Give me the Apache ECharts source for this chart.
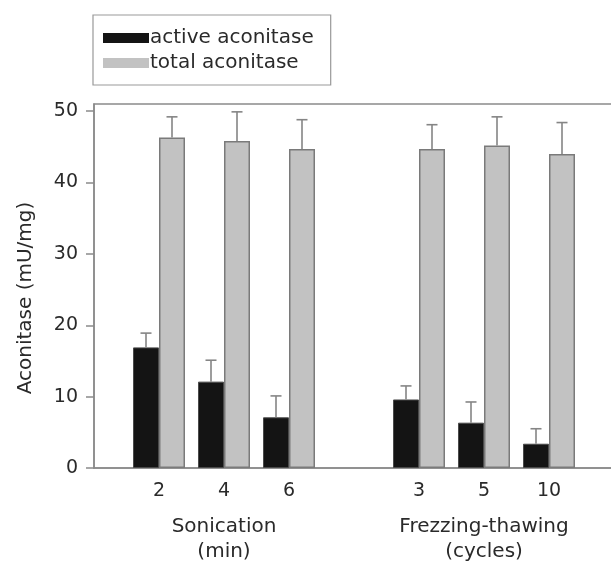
<!DOCTYPE html>
<html>
<head>
<meta charset="utf-8">
<script src="https://cdn.jsdelivr.net/npm/echarts@6/dist/echarts.min.js"></script>
<style>
  html, body { margin: 0; padding: 0; background: #fff; }
  #chart { width: 611px; height: 562px; }
</style>
</head>
<body>
<div id="chart"></div>
<script>
// x slots: empty slot at each end and one between the two groups
const categories = ['', '2', '4', '6', '', '3', '5', '10', ''];
const groupLabels = ['', '', 'Sonication\n(min)', '', '', '', 'Frezzing-thawing\n(cycles)', '', ''];
const barSlots = [1, 2, 3, 5, 6, 7];

const activeMean = [16.9, 12.1, 7.1, 9.6, 6.35, 3.4];
const activeErr = [2.0, 3.0, 3.0, 1.9, 2.9, 2.1];
const totalMean = [46.3, 45.8, 44.7, 44.7, 45.2, 44.0];
const totalErr = [2.9, 4.1, 4.1, 3.4, 4.0, 4.4];
const yTicks = [0, 10, 20, 30, 40, 50];

const FONT = 'DejaVu Sans';
const TXT = '#2a2a2a';
const BAR_W = 26;

// put the 6 values into the 9 slots
function toSlots(values) {
  const out = categories.map(() => '-');
  barSlots.forEach((s, i) => { out[s] = values[i]; });
  return out;
}
function errData(means, errs) {
  return barSlots.map((s, i) => [s, means[i], errs[i]]);
}
function errorBar(shift) {
  return function (params, api) {
    const base = api.coord([api.value(0), api.value(1)]);
    const top = api.coord([api.value(0), api.value(1) + api.value(2)]);
    const x = base[0] + shift;
    const st = { stroke: '#858585', lineWidth: 1.6 };
    return {
      type: 'group',
      children: [
        { type: 'line', shape: { x1: x, y1: base[1], x2: x, y2: top[1] }, style: st },
        { type: 'line', shape: { x1: x - 5.5, y1: top[1], x2: x + 5.5, y2: top[1] }, style: st }
      ]
    };
  };
}

const chart = echarts.init(document.getElementById('chart'));
chart.setOption({
  animation: false,
  textStyle: { fontFamily: FONT },
  grid: {
    left: 94, top: 104, right: -3, bottom: 94,
    show: true, borderColor: '#8a8a8a', borderWidth: 1.5,
    outerBoundsMode: 'none'
  },
  legend: {
    orient: 'vertical',
    left: 93, top: 15,
    padding: [13, 17, 12, 10],
    itemGap: 5,
    itemWidth: 46, itemHeight: 10,
    icon: 'rect',
    borderColor: '#999', borderWidth: 1.2,
    itemStyle: { borderWidth: 0 },
    textStyle: { fontFamily: FONT, fontSize: 20, color: TXT, padding: [0, 0, 0, -4] },
    data: ['active aconitase', 'total aconitase']
  },
  xAxis: [
    {
      type: 'category', data: categories, boundaryGap: false,
      axisLine: { lineStyle: { color: '#8a8a8a', width: 1.5 } },
      axisTick: { show: false },
      axisLabel: { interval: 0, margin: 14, fontSize: 19, color: TXT, fontFamily: FONT }
    },
    {
      type: 'category', data: groupLabels, boundaryGap: false, position: 'bottom',
      axisLine: { show: false },
      axisTick: { show: false },
      axisLabel: { interval: 0, margin: 46, lineHeight: 25, fontSize: 20, color: TXT, fontFamily: FONT }
    }
  ],
  yAxis: {
    type: 'value', min: 0, max: 51, interval: 10,
    name: 'Aconitase (mU/mg)', nameLocation: 'middle', nameGap: 58,
    nameTextStyle: { fontSize: 20, color: TXT, fontFamily: FONT, padding: [0, 24, 0, 0] },
    axisLine: { show: true, lineStyle: { color: '#8a8a8a', width: 1.5 } },
    axisTick: { show: true, length: 8, customValues: yTicks, lineStyle: { color: '#8a8a8a', width: 1.5 } },
    axisLabel: { margin: 16, fontSize: 19, color: TXT, fontFamily: FONT, customValues: yTicks },
    splitLine: { show: false }
  },
  series: [
    {
      name: 'active aconitase', type: 'bar', barWidth: BAR_W, barGap: '0%',
      data: toSlots(activeMean),
      itemStyle: { color: '#141414', borderColor: '#4a4a4a', borderWidth: 1 }
    },
    {
      name: 'total aconitase', type: 'bar', barWidth: BAR_W, barGap: '0%',
      data: toSlots(totalMean),
      itemStyle: { color: '#c2c2c2', borderColor: '#7a7a7a', borderWidth: 1.5 }
    },
    {
      type: 'custom', renderItem: errorBar(-BAR_W / 2),
      data: errData(activeMean, activeErr), z: 3
    },
    {
      type: 'custom', renderItem: errorBar(BAR_W / 2),
      data: errData(totalMean, totalErr), z: 3
    }
  ]
});
</script>
</body>
</html>
